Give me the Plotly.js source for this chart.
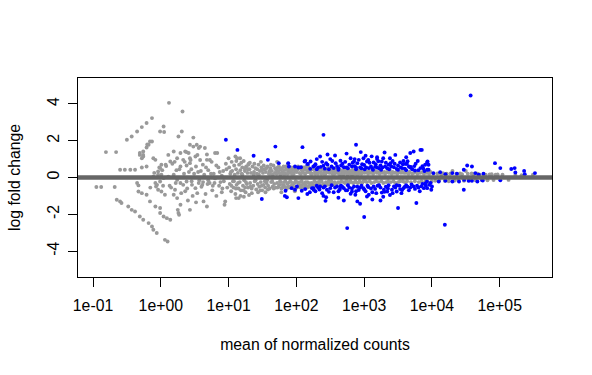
<!DOCTYPE html>
<html><head><meta charset="utf-8">
<script src="https://cdn.plot.ly/plotly-3.0.1.min.js"></script>
<style>html,body{margin:0;padding:0;background:#fff}#chart{width:592px;height:375px}</style>
</head><body><div id="chart"></div>
<script>
// Non-significant genes (grey): mean of normalized counts
const greyMean = [
 1.32, 2.09, 0.741, 0.617, 0.525, 0.447, 0.372, 0.316, 1.10, 0.977,
 1.12, 2.04, 1.82, 3.02, 0.741, 0.661, 0.617, 0.550, 0.490, 0.550,
 0.155, 0.219, 0.776, 0.832, 1.29, 1.55, 1.95, 2.40, 3.02, 3.63,
 2.69, 3.39, 1.74, 2.14, 2.69, 3.24, 1.38, 1.95, 2.69, 1.02,
 0.977, 0.912, 1.02, 0.251, 0.295, 0.355, 0.417, 0.525, 0.617, 0.112,
 0.132, 0.209, 0.447, 0.468, 0.224, 0.251, 0.263, 0.331, 0.372, 0.417,
 0.490, 0.550, 0.661, 0.741, 0.776, 0.871, 1.15, 1.26, 0.468, 0.525,
 0.617, 0.692, 0.832, 0.977, 0.977, 1.10, 1.23, 1.38, 0.851, 0.912,
 1.02, 1.15, 1.55, 1.74, 1.95, 1.82, 2.69, 0.776, 0.912, 1.10,
 1.29, 1.55, 1.74, 1.95, 2.14, 2.40, 2.88, 3.24, 3.63, 0.977,
 0.832, 1.62, 1.78, 1.86, 2.29, 2.57, 3.47, 4.79, 6.31, 3.80,
 4.47, 4.27, 4.79, 8.91, 8.71, 12.9, 4.17, 5.01, 5.62, 6.03,
 7.08, 7.59, 8.32, 3.98, 4.57, 5.25, 5.75, 6.61, 7.24, 7.94,
 9.12, 9.55, 4.37, 5.01, 6.31, 7.94, 4.79, 3.80, 3.55, 2.82,
 2.40, 2.29, 2.95, 3.31, 2.51, 0.490, 0.550, 0.525, 0.692, 0.631,
 1.05, 1.20, 1.35, 1.48, 1.66, 1.88, 2.20, 2.45, 2.75, 3.10,
 3.45, 3.90, 4.20, 4.65, 5.30, 5.85, 6.60, 7.40, 8.10, 9.30,
 0.70, 0.80, 0.88, 0.95, 1.08, 1.18, 1.42, 1.60, 1.70, 2.00,
 2.25, 2.60, 2.85, 3.30, 3.70, 4.10, 4.90, 5.50, 6.20, 8.50,
 10.2, 10.4, 10.6, 10.9, 11.1, 11.3, 11.6, 11.8, 12.1, 12.3,
 12.6, 12.9, 13.1, 13.4, 13.7, 14.0, 14.3, 14.6, 14.9, 15.2,
 15.6, 15.9, 16.3, 16.7, 17.0, 17.4, 17.8, 18.2, 18.6, 19.0,
 19.4, 19.8, 10.8, 12.0, 13.0, 15.0, 16.0, 17.2, 18.0, 19.2,
 12.8, 15.4, 17.6, 11.0, 13.8, 16.5, 6.80, 10.0, 12.6, 14.8,
 19.5, 14.1, 20.0, 16.8,
 20.3, 20.8, 21.4, 21.9, 22.5, 23.1, 23.7, 24.3, 24.9, 25.6,
 26.2, 26.9, 27.6, 28.3, 29.0, 29.8, 30.5, 31.3, 32.1, 32.9,
 33.8, 34.6, 35.5, 36.4, 37.4, 38.3, 39.3, 40.3, 41.4, 42.4,
 43.5, 44.6, 45.8, 47.0, 48.2, 49.4, 20.6, 22.0, 23.4, 25.0,
 26.5, 28.0, 29.5, 31.0, 33.0, 34.2, 36.0, 38.0, 40.0, 42.0,
 44.0, 46.3, 48.6, 24.0, 27.2, 30.0, 35.0, 21.0, 30.8, 37.0,
 41.0, 45.0,
 50.6, 51.9, 53.2, 54.5, 55.9, 57.3, 58.7, 60.2, 61.7, 63.2,
 64.8, 66.4, 68.0, 69.7, 71.5, 73.3, 75.1, 77.0, 78.9, 80.9,
 82.9, 85.0, 87.1, 89.3, 91.5, 93.8, 96.1, 98.5, 101, 103,
 106, 109, 111, 114, 117, 120, 123, 126, 129, 132,
 135, 139, 142, 146, 149, 153, 157, 51.2, 52.6, 54.0,
 55.2, 56.6, 58.0, 59.5, 61.0, 62.5, 64.0, 65.6, 67.2, 68.9,
 70.6, 72.4, 74.2, 76.0, 77.9, 79.9, 81.9, 83.9, 86.0, 88.2,
 90.4, 92.6, 95.0, 97.3, 99.7, 102, 104, 107, 110, 113,
 116, 118, 121, 125, 128, 131, 134, 137, 140, 144,
 147, 151, 155, 159, 52.0, 60.0, 75.0, 95.0,
 162, 166, 170, 175, 179, 184, 188, 193, 198, 203,
 208, 213, 219, 224, 230, 236, 242, 248, 254, 260,
 267, 273, 280, 287, 294, 301, 309, 317, 325, 333,
 341, 350, 358, 368, 377, 386, 396, 164, 172, 181,
 190, 200, 210, 221, 233, 245, 257, 270, 283, 297,
 313, 329, 345, 363, 381, 391,
 405, 415, 426, 437, 448, 459, 471, 483, 495, 508,
 521, 534, 548, 562, 576, 591, 606, 622, 638, 654,
 671, 688, 706, 724, 742, 761, 781, 801, 822, 843,
 864, 887, 909, 933, 957, 981, 420, 442, 465, 489,
 514, 541, 569, 598, 630, 662, 697, 733, 771, 811,
 853, 898, 945, 993,
 1010, 1040, 1070, 1100, 1140, 1170, 1210, 1250, 1280, 1320,
 1360, 1410, 1450, 1500, 1540, 1590, 1640, 1690, 1750, 1800,
 1860, 1920, 1980, 2040, 2110, 2180, 2250, 2320, 2390, 2470,
 2550, 2630, 2710, 2800, 2890, 2980, 3080, 3180, 3280, 3380,
 3490, 3600, 3720, 3840, 3960,
 4100, 4300, 4500, 4700, 4900, 5100, 5400, 5600, 5900, 6100,
 6400, 6700, 7000, 7300, 7600, 8000, 8300, 8700, 9100, 9500,
 9900,
 10500, 11200, 12000, 12800, 13700, 14500, 15500, 16500, 17700, 18800,
 20100, 21400, 22900, 24400, 26000, 27800, 29700, 31600, 33800, 36000,
 38500,
 41000, 44000, 47000, 50000, 54000, 58000, 62000, 66000, 71000, 76000,
 81000, 87000, 93000, 110000, 135000, 170000, 210000, 309000
];
// Non-significant genes (grey): log2 fold change
const greyLfc = [
 4.06, 3.59, 3.23, 2.96, 2.74, 2.50, 2.23, 2.05, 2.77, 2.50,
 2.47, 2.50, 2.23, 2.17, 1.96, 1.78, 1.63, 1.41, 1.23, 1.14,
 1.38, 1.38, 1.05, 0.96, 1.23, 1.41, 1.33, 1.38, 1.68, 1.60,
 1.78, 1.78, 1.05, 0.96, 1.05, 1.14, 0.87, 0.60, 0.78, 0.69,
 0.51, 0.33, 0.15, 0.42, 0.42, 0.42, 0.42, 0.54, 0.60, -0.52,
 -0.52, -0.52, -0.30, -0.43, -1.21, -1.30, -1.39, -1.58, -1.76, -1.85,
 -2.12, -2.30, -2.48, -2.66, -2.84, -3.02, -3.39, -3.48, -0.76, -0.85,
 -0.94, -1.30, -1.58, -1.66, -1.93, -2.12, -2.21, -2.30, -0.49, -0.67,
 -0.76, -0.94, -0.94, -1.12, -1.48, -1.93, -1.76, 0.05, 0.15, -0.03,
 0.05, 0.15, -0.13, -0.30, -0.40, -0.22, -0.40, -0.58, -0.30, -0.22,
 -0.30, -0.67, -1.76, -2.03, 1.41, 1.33, 1.22, 0.96, 1.33, 1.68,
 1.60, -1.30, -1.58, -1.30, -1.48, -1.12, 0.70, 0.40, 0.85, 0.20,
 0.55, -0.25, 0.35, -0.50, -0.90, -0.30, -0.70, -1.00, -0.45, -0.80,
 0.75, -0.55, 0.15, -0.15, -0.05, 0.10, 1.25, 0.95, 0.30, 0.45,
 0.65, -0.75, -1.00, -1.35, -1.25, 1.33, 1.23, 1.05, 1.96, 1.80,
 0.40, 0.62, -0.45, 0.75, -0.30, 0.45, 0.20, -0.60, 0.95, 0.20,
 -0.85, 0.35, -0.25, 0.55, 0.95, -0.45, 0.65, 0.30, -0.60, 0.45,
 -0.55, 0.25, -0.40, 0.55, -0.45, 0.70, -0.55, 0.85, 0.40, -0.85,
 0.85, 0.30, -0.20, 0.60, -0.15, -0.40, -0.35, 0.20, -0.30, -0.20,
 0.55, -0.35, 0.20, -0.75, 0.85, 0.35, -0.20, -0.55, 0.65, 0.15,
 -0.90, 0.45, -0.40, 1.05, 0.25, -0.60, 0.70, -0.25, 0.40, -0.70,
 0.20, 0.55, -0.45, 0.90, -0.15, 0.35, -0.80, 0.60, -0.35, 0.25,
 -0.55, 0.75, 0.30, -0.20, 0.90, -1.00, 0.15, 0.50, -0.25, 0.45,
 -0.60, 0.80, -0.55, -0.45, -0.30, -0.70, 1.33, 1.05, 1.14, 1.05,
 0.69, -1.12, -0.95, -1.05,
 0.45, -0.30, 0.25, -0.60, 0.60, -0.45, 0.30, -0.20, 0.50, -0.65,
 0.20, -0.35, 0.70, -0.50, 0.35, -0.25, 0.55, -0.70, 0.25, -0.40,
 0.45, -0.55, 0.30, -0.30, 0.60, -0.45, 0.20, -0.60, 0.50, -0.25,
 0.35, -0.50, 0.65, -0.35, 0.25, -0.55, 0.80, -0.85, 0.15, -0.15,
 0.45, 0.15, -0.70, 0.40, 0.65, -0.20, 0.50, -0.65, 0.35, 0.70,
 -0.20, -0.60, 0.50, 0.75, -0.80, 0.85, -0.80, -0.50, -0.45, -0.15,
 0.20, 0.15,
 0.40, -0.30, 0.55, -0.50, 0.25, -0.20, 0.45, -0.60, 0.30, -0.40,
 0.60, -0.25, 0.20, -0.55, 0.50, -0.35, 0.35, -0.50, 0.25, -0.20,
 0.55, -0.45, 0.40, -0.60, 0.20, -0.30, 0.50, -0.50, 0.30, -0.25,
 0.60, -0.40, 0.25, -0.55, 0.45, -0.20, 0.35, -0.60, 0.55, -0.35,
 0.20, -0.45, 0.40, -0.25, 0.60, -0.50, 0.30, 0.20, -0.55, 0.35,
 0.60, -0.40, 0.15, -0.25, 0.50, -0.55, 0.20, -0.45, 0.40, -0.20,
 0.60, -0.60, 0.20, -0.30, 0.45, -0.55, 0.35, -0.25, 0.20, -0.40,
 0.55, -0.55, 0.35, -0.20, 0.40, -0.55, 0.45, -0.30, 0.50, -0.25,
 0.20, -0.45, 0.55, -0.35, 0.25, -0.55, 0.45, -0.25, 0.60, -0.55,
 0.30, -0.30, 0.50, -0.45, 0.85, -0.80, 0.75, -0.75,
 0.40, -0.30, 0.20, -0.40, 0.50, -0.20, 0.30, -0.45, 0.45, -0.25,
 0.20, -0.35, 0.50, -0.40, 0.30, -0.20, 0.45, -0.35, 0.20, -0.45,
 0.40, -0.25, 0.30, -0.40, 0.50, -0.20, 0.25, -0.35, 0.45, -0.30,
 0.20, -0.40, 0.35, -0.25, 0.45, -0.35, 0.25, 0.20, 0.45, -0.40,
 0.20, -0.35, 0.40, -0.20, 0.20, -0.45, 0.35, 0.20, -0.30, 0.30,
 0.40, -0.20, 0.35, 0.20, -0.40, 0.40,
 0.30, -0.25, 0.20, -0.30, 0.40, -0.20, 0.25, 0.35, -0.25, 0.20,
 -0.30, 0.30, 0.40, -0.20, 0.25, -0.30, 0.35, 0.20, -0.25, 0.30,
 0.40, -0.30, 0.20, 0.35, -0.20, 0.25, 0.40, -0.30, 0.20, 0.30,
 -0.25, 0.35, 0.20, -0.30, 0.40, -0.20, 0.40, 0.15, 0.35, 0.15,
 0.40, -0.20, 0.15, 0.40, -0.20, 0.15, 0.40, -0.25, 0.20, 0.35,
 -0.20, 0.30, -0.25, 0.30,
 0.25, -0.20, 0.30, -0.25, 0.20, 0.35, -0.20, 0.25, -0.30, 0.30,
 0.20, -0.25, 0.35, -0.20, 0.25, 0.30, -0.25, 0.20, 0.35, -0.20,
 0.25, -0.30, 0.30, 0.20, -0.25, 0.30, -0.20, 0.25, 0.35, -0.25,
 0.20, 0.30, -0.20, 0.25, -0.30, 0.30, 0.20, -0.25, 0.30, -0.20,
 0.25, 0.35, -0.20, 0.25, -0.25,
 0.25, -0.20, 0.20, 0.30, -0.25, 0.20, 0.25, -0.20, 0.30, 0.20,
 -0.25, 0.25, -0.20, 0.30, 0.20, -0.20, 0.25, -0.25, 0.20, 0.30,
 -0.20,
 0.20, -0.18, 0.22, -0.16, 0.18, 0.24, -0.18, 0.20, -0.20, 0.22,
 0.36, -0.18, 0.20, -0.16, 0.22, 0.18, -0.18, 0.35, 0.20, -0.16,
 0.22,
 0.18, -0.15, 0.20, 0.16, -0.14, 0.18, 0.15, -0.15, 0.16, 0.18,
 -0.14, 0.15, 0.16, 0.15, -0.13, 0.14, 0.12, 0.15
];
// Significant genes (blue): mean of normalized counts
const blueMean = [
 9.12, 13.5, 49.0, 123, 23.4, 38.0, 55.0, 75.9, 77.6, 95.5,
 107, 132, 162, 148, 178, 160, 69.2, 85.1, 95.5, 102,
 120, 135, 170, 180, 67.6, 72.4, 107, 30.9, 251, 759,
 1050, 2000, 2880, 4790, 5370, 6760, 224, 316, 447, 631,
 708, 832, 977, 1100, 1380, 1550, 1820, 2450, 3390, 4270,
 8510, 7940, 186, 251, 355, 501, 661, 871, 1170, 1550,
 2040, 2750, 3630, 4790, 6760, 8510, 178, 224, 282, 398,
 501, 708, 977, 1380, 1950, 2750, 3800, 5370, 7590, 275,
 269, 562, 661, 741, 1100, 1170, 794, 871, 1740, 1820,
 2190, 2570, 3390, 3020, 5890, 3160, 1000, 562, 15500, 29500,
 85100, 102000, 148000, 166000, 170000, 229000, 234000, 331000, 102000, 33100,
 38900, 29500, 23400, 20000, 43700, 49000, 57500, 29800, 38900, 55000,
 8600, 8910, 7080, 37200, 8910, 10500, 13200, 15800, 8450, 9550,
 12600, 15800, 20000, 25100, 34700, 46800, 56200, 8510, 10000, 9770,
 191, 209, 240, 263, 288, 331, 380, 417, 457, 525,
 575, 603, 724, 794, 912, 1000, 1150, 1260, 1320, 1480,
 1660, 1740, 1910, 2190, 2290, 2630, 3020, 3160, 3800, 3980,
 4570, 5130, 5750, 6310, 7240, 7760, 372, 550, 1290, 2400,
 891, 4170, 200, 288,
 191, 209, 240, 316, 355, 437, 457, 603, 631, 832,
 912, 1050, 1260, 1510, 1580, 2090, 2400, 3310, 3550, 4170,
 4570, 5010, 6030, 6610, 7240, 8130, 251, 417, 1320, 1910,
 158, 145, 501,
 200, 302, 417, 759, 1020, 1350, 1780, 2340, 3160, 4170,
 5620, 200, 251, 331, 447, 575, 794, 1120, 1660, 2290,
 3020, 4370, 6310, 9120, 117, 135, 145,
 724, 1550, 4070,
 229, 275, 339, 398, 479, 550, 676, 759, 933, 1070,
 1200, 1450, 1620, 1860, 2090, 2510, 2820, 3470, 3720, 4370,
 4900, 5500, 6170, 7410,
 219, 263, 302, 372, 417, 479, 537, 661, 759, 871,
 1000, 1150, 1320, 1450, 1740, 2000, 2240, 2630, 2880, 3630,
 3980, 4790, 5620, 6920, 7940
];
// Significant genes (blue): log2 fold change
const blueLfc = [
 2.05, 1.50, 1.68, 1.65, 1.18, 0.96, 0.78, 0.78, 0.60, 0.60,
 0.54, 0.87, 0.87, 0.74, 0.60, 0.47, -0.72, -0.58, -0.67, -0.49,
 -0.72, -0.63, -0.58, -0.67, -1.00, -1.07, -1.12, -1.17, 2.32, 1.78,
 1.18, 1.36, 1.23, 1.33, 1.41, 1.50, 1.14, 1.00, 0.91, 1.05,
 0.87, 0.96, 1.05, 0.87, 0.82, 1.00, 0.87, 0.78, 0.82, 0.74,
 0.82, 0.69, 0.64, 0.64, 0.51, 0.56, 0.60, 0.54, 0.51, 0.54,
 0.60, 0.56, 0.51, 0.54, 0.51, 0.42, -0.58, -0.49, -0.67, -0.49,
 -0.58, -0.49, -0.58, -0.49, -0.67, -0.49, -0.58, -0.49, -0.58, -1.07,
 -1.27, -0.70, -0.76, -0.94, -1.03, -0.94, -1.30, -1.43, -1.25, -0.82,
 -0.76, -0.67, -0.63, -0.76, -1.39, -1.66, -2.15, -2.75, -2.57, -0.67,
 0.78, 0.51, 0.46, 0.51, 0.27, 0.36, 0.18, 0.24, -0.15, 0.65,
 0.60, 0.42, 0.20, 0.24, 0.24, 0.15, 0.20, -0.13, -0.18, -0.13,
 0.87, 0.69, 1.50, 4.46, 0.42, 0.24, 0.29, 0.18, -0.22, -0.30,
 -0.22, -0.18, -0.22, -0.22, -0.18, -0.22, -0.16, -0.58, -0.49, -0.67,
 0.72, 0.55, 0.85, 0.48, 0.70, 0.60, 0.78, 0.50, 0.65, 0.85,
 0.50, 0.70, 0.62, 0.78, 0.50, 0.68, 0.95, 0.60, 0.48, 0.72,
 0.50, 0.66, 1.05, 0.50, 0.70, 0.90, 0.47, 0.65, 0.90, 0.48,
 0.60, 0.45, 0.75, 0.40, 0.62, 0.35, 1.20, 1.30, 1.15, 1.05,
 1.38, 1.10, 1.00, 1.25,
 -0.75, -0.55, -0.85, -0.58, -0.80, -0.65, -0.45, -0.55, -0.88, -0.68,
 -0.45, -0.75, -0.60, -0.85, -0.45, -0.50, -0.95, -0.45, -0.85, -0.42,
 -0.70, -0.38, -0.45, -0.75, -0.35, -0.45, -1.00, -1.10, -1.20, -1.05,
 -0.80, -0.90, -1.25,
 0.45, 0.45, 0.42, 0.45, 0.45, 0.42, 0.42, 0.45, 0.42, 0.40,
 0.38, -0.45, -0.55, -0.42, -0.50, -0.42, -0.50, -0.45, -0.42, -0.42,
 -0.42, -0.50, -0.55, -0.40, 0.56, 0.92, 0.74,
 1.00, 1.10, 0.74,
 0.58, 0.78, 0.90, 0.62, 0.75, 0.55, 0.80, 0.55, 0.72, 0.55,
 0.80, 0.58, 0.88, 0.55, 0.80, 0.60, 0.75, 0.55, 0.72, 0.88,
 0.58, 0.62, 0.90, 0.50,
 -0.65, -0.48, -0.78, -0.55, -0.75, -0.52, -0.70, -0.60, -0.75, -0.55,
 -0.65, -0.52, -0.80, -0.62, -0.55, -0.78, -0.60, -0.85, -0.55, -0.68,
 -0.50, -0.55, -0.62, -0.48, -0.32
];
const xTickVals = [0.1, 1, 10, 100, 1000, 10000, 100000];
const xTickText = ['1e-01', '1e+00', '1e+01', '1e+02', '1e+03', '1e+04', '1e+05'];
const yTickVals = [-4, -2, 0, 2, 4];
const yTickText = ['-4', '-2', '0', '2', '4'];

if (greyMean.length !== greyLfc.length || blueMean.length !== blueLfc.length) {
  console.error('length mismatch', greyMean.length, greyLfc.length, blueMean.length, blueLfc.length);
}

const traces = [
  {type: 'scatter', mode: 'markers', x: greyMean, y: greyLfc, name: 'not significant',
   marker: {color: '#999999', size: 3.9, line: {width: 0}}},
  {type: 'scatter', mode: 'markers', x: blueMean, y: blueLfc, name: 'significant',
   marker: {color: '#0000FF', size: 3.9, line: {width: 0}}}
];

const layout = {
  width: 592, height: 375,
  margin: {l: 78, r: 40, t: 78, b: 98},
  showlegend: false,
  paper_bgcolor: '#ffffff', plot_bgcolor: '#ffffff',
  font: {family: 'Liberation Sans, Arial, sans-serif', size: 15.8, color: '#000000'},
  xaxis: {
    type: 'log', range: [-1.2216, 5.771],
    tickmode: 'array', tickvals: xTickVals, ticktext: xTickText,
    ticks: 'outside', ticklen: 9, tickwidth: 1, tickcolor: '#000000',
    ticklabelstandoff: 5,
    showgrid: false, zeroline: false,
    showline: true, mirror: true, linecolor: '#000000', linewidth: 1,
    title: {text: 'mean of normalized counts', font: {size: 15.8}, standoff: 25}
  },
  yaxis: {
    range: [-5.41, 5.41],
    tickmode: 'array', tickvals: yTickVals, ticktext: yTickText, tickangle: -90,
    ticks: 'outside', ticklen: 9, tickwidth: 1, tickcolor: '#000000',
    ticklabelstandoff: 3,
    showgrid: false, zeroline: false,
    showline: true, mirror: true, linecolor: '#000000', linewidth: 1,
    title: {text: 'log fold change', font: {size: 15.8}, standoff: 20}
  },
  shapes: [
    {type: 'line', xref: 'paper', x0: 0, x1: 1, yref: 'y', y0: 0, y1: 0,
     line: {color: '#666666', width: 4.5}, layer: 'above'}
  ]
};

Plotly.newPlot('chart', traces, layout, {staticPlot: true, displayModeBar: false});
</script>
</body></html>
